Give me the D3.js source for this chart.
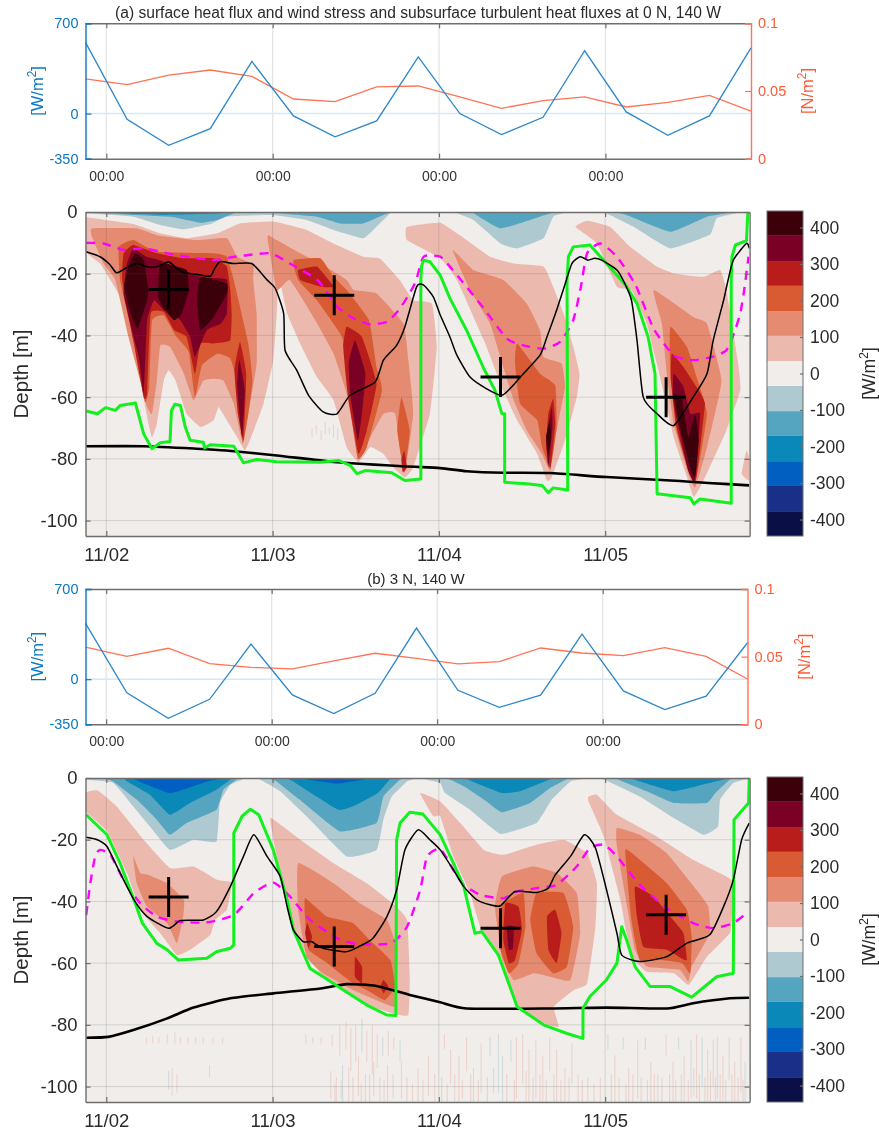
<!DOCTYPE html>
<html>
<head>
<meta charset="utf-8">
<style>
  html, body { margin: 0; padding: 0; background: #fff; }
  text { font-family: "Liberation Sans", Arial, sans-serif; }
</style>
</head>
<body>
<div id="chart"></div>
<script src="https://cdn.jsdelivr.net/npm/d3@7"></script>
<script>
// time is in hours since 11/02 00:00, depth in metres, fluxes in W/m2
const dayHours = [0, 24, 48, 72];
const dayLabels = ['11/02', '11/03', '11/04', '11/05'];
const clockLabels = ['00:00', '00:00', '00:00', '00:00'];
const depthTicks = [0, -20, -40, -60, -80, -100];
const heatTicks = [-350, 0, 700];
const stressTicks = [0, 0.05, 0.1];
const barTicks = [400, 300, 200, 100, 0, -100, -200, -300, -400];

const sixHourly = [-3, 3, 9, 15, 21, 27, 33, 39, 45, 51, 57, 63, 69, 75, 81, 87, 93];
const heatFluxA = [552, -44, -246, -117, 404, -18, -181, -57, 440, 0, -163, -29, 487, 13, -168, -18, 510];
const windStressA = [.059, .0547, .0618, .0655, .0608, .0441, .0421, .053, .0537, .0456, .0372, .0429, .0456, .0382, .0416, .0468, .0352];
const heatFluxB = [433, -106, -303, -156, 272, -122, -267, -109, 397, -86, -218, -124, 350, -91, -236, -132, 283];
const windStressB = [.0571, .0502, .0562, .0448, .0421, .0409, .0468, .0525, .0488, .0446, .0463, .0564, .0527, .0507, .0567, .0502, .0335];

const bandEdges = [-445, -377, -308, -240, -171, -103, -34, 34, 103, 171, 240, 308, 377, 445];
const bandColors = ['#0a1045', '#1a2f88', '#005fc0', '#0a88b8', '#56a5c0', '#aec9d0', '#f0edeb',
  '#ebb9ad', '#e48b72', '#d95b33', '#b81d1c', '#7a0026', '#3b0009'];

// thin black line, green line, thick black line, dashed magenta line, crosses: panel a
const mixedLayerA = [[-2.9,-12.9],[-.9,-14.5],[.5,-17],[1.5,-19.7],[3,-18],[4.4,-16.7],[6,-17.8],[7.3,-17.7],[9,-16.1],[10,-18],[11.2,-19.7],[13,-20.2],[15,-20.8],[15.6,-18.5],[16.4,-16.1],[18.4,-16.7],[21,-16.7],[23.2,-22],[24.4,-24.8],[25.6,-32.9],[25.8,-44.8],[27.5,-51.3],[29.2,-59.4],[31.3,-64.8],[33.3,-65.4],[35.2,-59.4],[38.8,-55.1],[40,-48],[41.9,-43.2],[43.1,-37.2],[44.8,-24.2],[45.8,-23.7],[47.2,-27.5],[48.2,-33.4],[49.6,-40.5],[50.6,-46.4],[52.5,-53.5],[54.9,-57.3],[57.1,-59.4],[58.5,-56.7],[60,-52.9],[62.6,-46.4],[63.6,-40.5],[65,-31.8],[66.1,-24.2],[67.2,-16.7],[68.4,-14.5],[69.5,-15.6],[70.5,-15],[71.5,-15.6],[73.7,-18.8],[74.8,-23],[75.8,-28.6],[76.6,-41.6],[77.5,-60],[79.5,-65.4],[81.9,-69.2],[84.7,-60],[86.7,-52.4],[87.6,-41.6],[89.1,-28.6],[89.6,-23.5],[90.5,-15.6],[92.4,-10.2],[92.8,-11.8]];
const thermoclineA = [[-2.9,-64.5],[-1.3,-65.4],[-.1,-63.4],[1.3,-64.3],[2,-62.7],[4.2,-61.9],[5.4,-71.9],[6.6,-76.7],[7.8,-74.8],[9.2,-74.4],[9.4,-64.3],[9.9,-62.3],[10.7,-62.7],[11.4,-69.7],[12.1,-74],[14,-74.6],[14.2,-76.5],[15,-75.4],[18.4,-75.9],[19.8,-81.3],[21.7,-80.2],[24.6,-80.9],[30.9,-81.1],[33.5,-80.5],[35.2,-82.1],[36.2,-84.8],[37.4,-83.8],[41.2,-84.5],[43.1,-87],[45.4,-86.5],[45.4,-22],[45.5,-17.7],[45.8,-15.6],[46.7,-16.1],[48.2,-20.5],[49.6,-28],[52,-38.3],[54.5,-50.8],[56.1,-57.8],[57.1,-65.4],[57.5,-65.4],[57.5,-87.6],[60.7,-88.1],[62.9,-88.6],[63.8,-91],[64.5,-89.4],[66.6,-90.1],[66.5,-22],[66.7,-14.5],[67.4,-11.3],[69.8,-10.7],[72.2,-16.7],[74.9,-23.5],[76.6,-29.7],[78.2,-40.5],[79.2,-52.4],[79.5,-91.3],[84.3,-92.6],[84.8,-94.6],[85.7,-93],[90.2,-94.4],[90.2,-22],[90.3,-14.5],[90.8,-10.7],[92.4,-9.3],[92.6,0]];
const bottomLineA = [[-2.9,-75.9],[5.4,-75.9],[13,-76.7],[17.3,-77.3],[24.6,-78.9],[32.8,-81],[42.9,-82.4],[48.2,-83],[52,-84],[57.3,-84.5],[64,-84.6],[72.2,-85.9],[82.8,-87.2],[86.9,-87.8],[92.8,-88.6]];
const dashedLineA = [[-2.9,-10],[-.4,-10.2],[2.5,-12.3],[5.4,-11.8],[8.8,-13.4],[11.6,-14.5],[15.5,-15.6],[17.9,-14.7],[20.3,-14],[23.7,-13.4],[26.5,-16.7],[30.6,-22.3],[33.3,-30.7],[35.7,-34.5],[38,-36.4],[40.5,-35.6],[42.2,-31.8],[43.6,-27],[44.7,-22.3],[45.8,-14.5],[48.2,-14.5],[49.6,-17.7],[51.4,-22.6],[54.5,-31.3],[57.8,-41],[60.2,-43.2],[63.1,-44.3],[65.5,-42.1],[67.4,-35],[68.5,-24.2],[69.4,-13.4],[71.3,-10.2],[73.7,-14.5],[76.4,-23.7],[79,-37.8],[81.9,-46.4],[84.7,-48],[87.6,-46.9],[89.5,-44.8],[90.5,-39.9],[91.5,-32.9],[92.1,-24.8],[92.7,-14.5]];
const crossesA = [[9,-25.1],[32.9,-27],[56.9,-53.5],[80.8,-60]];

// same lines for panel b
const mixedLayerB = [[-2.9,-19.2],[-1.3,-20],[.1,-22.2],[2,-30.8],[4,-39.5],[5.9,-44.9],[9,-48.7],[10.7,-46.2],[14,-46],[15.9,-43.3],[17.9,-35.2],[19.8,-25.4],[21.3,-18.4],[23.2,-25.4],[25.1,-31.9],[26.1,-41.7],[27,-49.2],[28.4,-53],[29.6,-53],[31.3,-55.2],[34.6,-56.3],[36.4,-54.7],[38.5,-51.9],[40.5,-44.9],[41.9,-36.3],[43.1,-23.3],[45,-16.8],[46.7,-20],[48.2,-23.3],[50.1,-29.8],[51.6,-35.2],[53.5,-39.5],[55.4,-41.1],[56.9,-41.4],[59,-36.8],[62.1,-37.1],[63.8,-35.7],[64.8,-31.4],[67,-25.4],[69,-18.4],[70.6,-22.7],[72.2,-36.2],[73.7,-50.3],[74.4,-57.4],[77,-59.5],[80.9,-57.9],[83.8,-53.5],[87.1,-50.8],[89.1,-41.6],[90.5,-33],[91.7,-20],[92.8,-14.6]];
const thermoclineB = [[-2.9,-11.9],[.1,-18.4],[2,-27.6],[4,-39.5],[5.2,-47],[7.3,-53.6],[8.8,-55.7],[10.4,-59],[14.5,-58.4],[15.9,-56.3],[17.9,-55.2],[18.4,-54.1],[18.4,-17.9],[19.6,-12.4],[20.8,-10.1],[22,-11.9],[24.1,-23.3],[26.1,-39.5],[27,-49.2],[29.4,-61.7],[31.3,-64.4],[34.6,-69.3],[37.6,-73.6],[40.5,-76.8],[41.8,-77],[41.9,-20],[42.4,-14.6],[43.8,-11.1],[45.7,-11.7],[48.2,-18.4],[50.1,-27.6],[51.6,-35.2],[53.2,-50.3],[54.2,-49.8],[56.6,-57.4],[59.3,-74.1],[63.1,-80],[66.5,-82.8],[68.8,-84.4],[68.8,-74.6],[69.8,-70.8],[72.2,-65.4],[73.7,-60],[74.4,-48.2],[75.1,-52.5],[76.3,-61.1],[78.5,-67.6],[81.4,-67.6],[84.5,-71],[88.1,-64.4],[90.5,-63.3],[90.6,-13.5],[92.7,-8.1],[92.8,0]];
const bottomLineB = [[-2.9,-84.2],[.3,-83.9],[3.9,-81.7],[8.8,-77.9],[12.6,-74.4],[17.9,-71.4],[24.1,-69.8],[30.9,-68.2],[34.7,-66.8],[39,-67.4],[43.8,-70.3],[48.2,-72.7],[52,-74.7],[64,-74.7],[72.2,-74.4],[80.9,-74.7],[84.7,-73],[90,-71.4],[92.8,-71.2]];
const dashedLineB = [[-2.9,-44.4],[-2.3,-34],[-1.6,-25.4],[-.9,-23.3],[.6,-24.9],[2.5,-33],[4.9,-40.6],[7.3,-44.9],[10.2,-46.5],[14.5,-46.8],[18.4,-44.4],[21.3,-37.3],[24.1,-33.9],[26.5,-38.4],[29.4,-46],[33.3,-51.9],[36.2,-53.8],[41,-53.6],[43.4,-48.2],[45.3,-36.3],[46.3,-25.4],[48.2,-23],[50.1,-29.8],[51.6,-34.6],[54,-37.9],[57.3,-39],[59.3,-36.8],[62.1,-35.7],[65,-34.6],[67.9,-28.7],[69.8,-22.7],[71.8,-21.6],[73.7,-25.4],[77,-34.6],[80.9,-42.2],[84.7,-47],[87.6,-48.7],[90.5,-47],[92.7,-43.3]];
const crossesB = [[9,-38.6],[32.9,-54.6],[56.9,-48.7],[80.8,-44.3]];

// flux field of panel a, as [band value, outline], painted from weakest to strongest
const fluxColdA = [
  [-68, [[-3,0],[-2.9,-.4],[3.9,-1.5],[7.8,-4.2],[11.2,-5.6],[15,-3.9],[17.4,-1.5],[23.9,-1],[28.9,-2.6],[32.8,-5.8],[37.1,-8.5],[39,-4.8],[41,-.4],[42,0]]],
  [-68, [[50,0],[50.6,-.4],[53,-2.6],[56.9,-10.2],[59.3,-11.8],[63.1,-8.5],[64.5,-1.5],[66.5,-.2],[67,0]]],
  [-68, [[71.5,0],[72.2,-.4],[76.1,-4.8],[81.4,-11.8],[87.1,-7.4],[88.1,-2],[91.5,-.2],[92,0]]],
  [-137, [[-3,0],[-2.9,-.2],[3.9,-1],[9.7,-1.7],[13.6,-3.5],[16,-2.6],[18.4,-.4],[19,0]]],
  [-137, [[24,0],[24.6,-.4],[30.4,-1.5],[33.8,-3.7],[37.1,-3.7],[40,-1],[41,-.2],[41.5,0]]],
  [-137, [[52,0],[53,-.4],[56.9,-5.3],[62.6,-1.5],[64.5,-.2],[65,0]]],
  [-137, [[74,0],[75.1,-1],[81.4,-6.4],[86.7,-1.5],[89.5,-.4],[90,0]]],
  [-205, [[-1,0],[8,-.9],[15,-.6],[17,0]]]
];
const fluxWarmA = [
  [68, [[-2.9,-1.7],[3.9,-3.9],[7.8,-6.9],[11.6,-8.5],[16,-6.9],[19.3,-3.7],[24.1,-3.1],[28.9,-5.8],[32.8,-10.2],[37.1,-14.5],[39.5,-15.1],[42.4,-22.2],[44.3,-28.6],[47,-29.7],[47.7,-43.7],[46.7,-65.4],[44.3,-82.7],[43.1,-86],[41.4,-82.7],[40,-78.4],[38.1,-76.2],[36.4,-81],[34.7,-76.2],[32.8,-61],[30.4,-53.5],[28.2,-43.7],[26.1,-32.9],[24.9,-21],[24.6,-32.9],[24.1,-48],[22.7,-62.1],[20.9,-73],[20,-77.3],[18.9,-73],[17.4,-67.5],[16.2,-63.2],[15.5,-67.5],[13.6,-69.7],[11.6,-65.4],[10,-54.6],[9,-51.3],[8.3,-54.6],[7.3,-68.6],[6.6,-73],[6.1,-68.6],[4.9,-54.6],[3.5,-39.4],[2,-27.5],[.6,-22],[-.9,-16.7],[-3.2,-12.3],[-3.2,-1.7]]],
  [68, [[43.4,-4.8],[48.2,-3.5],[52,-9.1],[55.4,-14.5],[58.8,-16.7],[63.1,-17.7],[64.5,-24.2],[66,-32.9],[67.4,-43.7],[68.3,-52.4],[67.9,-60],[66.2,-74],[64.3,-86],[63.6,-87],[62.2,-78.4],[59.3,-67.5],[57.3,-57.8],[54.5,-41.6],[50.6,-22],[48.2,-15],[43.4,-9.1]]],
  [68, [[67.7,-4.8],[69.4,-2.8],[72.7,-4.8],[75.6,-11.3],[79.5,-17.7],[81.9,-19.9],[86.2,-21],[88.6,-18.8],[89.5,-25.3],[91.2,-49.1],[91.5,-57.8],[89.5,-70.8],[86.2,-87],[84.8,-92.4],[83.8,-85.9],[81.9,-73],[79.7,-51.3],[78,-36.2],[75.8,-25.3],[73.7,-24.2],[70.8,-10.2]]],
  [68, [[91.7,-84.8],[92.4,-77.3],[92.8,-80],[92.8,-87]]],
  [137, [[-2,-5.3],[4.4,-5.3],[7.3,-7.5],[13.1,-9.1],[17.4,-8.5],[18.9,-14.5],[21.2,-17],[21.2,-22],[21.7,-32.9],[21.7,-49.1],[20.5,-65.4],[19.6,-74],[18.4,-62.1],[16.9,-54.6],[15.5,-54],[14,-54.6],[12.6,-61],[11.2,-52.4],[9.2,-43.7],[7.8,-43.2],[7.3,-54.6],[6.6,-65.4],[5.9,-63.2],[4.9,-54.6],[3.2,-40.5],[1.3,-22],[-.4,-16.7],[-2.1,-7.8]]],
  [137, [[23.4,-7.5],[24.6,-9.1],[28,-13.4],[30.9,-16.7],[34.7,-22],[35.7,-25.3],[39,-26.4],[42.9,-36.2],[43.6,-48],[44.3,-65.4],[43,-84.9],[41.7,-65.4],[40,-65.4],[38.1,-73],[36.4,-79.5],[34.7,-58.9],[32.8,-45.9],[29.9,-34],[26.5,-22],[24.6,-25.3],[23.3,-9.1]]],
  [137, [[50,-12.3],[53,-18.8],[57.3,-22],[60.7,-29.7],[62.6,-38.3],[63.1,-47],[65.7,-49.1],[66.2,-56.7],[65,-70.8],[64.1,-83.8],[62.9,-78.4],[60.7,-70.8],[58.8,-61],[57.3,-50.2],[55.4,-36.2],[52.5,-25.3]]],
  [137, [[79,-25.3],[84.7,-34],[86.7,-36.2],[88.8,-54.6],[86.7,-76.2],[85,-89.2],[84,-84.9],[81.9,-68.6],[80.9,-52.4],[80.2,-36.2]]],
  [205, [[1.8,-11.3],[3.9,-9.1],[7.3,-12.9],[15.5,-13.4],[17.4,-14.5],[18.4,-22],[20.5,-42.6],[21.1,-54.6],[20.5,-65.4],[19.7,-75.1],[18.8,-54.6],[17.9,-47.5],[16,-45.9],[13.8,-49.7],[12.8,-60],[11.9,-45.4],[10,-40],[8.3,-33.5],[6.6,-35.1],[6.2,-56.7],[5.6,-61.6],[4.1,-43.7],[2,-22]]],
  [205, [[27,-15.6],[30.9,-15],[32.8,-21],[34.7,-25.3],[37.9,-35],[39,-50.2],[39.8,-57.8],[37.6,-76.2],[36.3,-80],[35.2,-63.2],[34.2,-41.6],[32.8,-36.2],[30.4,-28.6],[27.7,-22]]],
  [205, [[42.6,-60],[43.8,-70.8],[43,-84.3],[42,-70.8]]],
  [205, [[59.3,-42.6],[62.6,-52.4],[64.8,-56.2],[65,-69.7],[64.1,-82.7],[62.9,-76.2],[62.2,-67.5],[59.7,-62.1],[59,-49.1]]],
  [205, [[81.4,-37.2],[83.8,-43.7],[85.2,-53.5],[86.7,-65.4],[85.2,-85.9],[84.3,-85.4],[82.3,-70.8],[81.4,-52.4]]],
  [274, [[2.5,-13.4],[3.9,-10.7],[7.3,-13.4],[11.1,-15],[15.5,-15],[17.4,-17.7],[17.9,-25.3],[18.1,-32.9],[17.9,-41.6],[15.5,-42.6],[13.6,-42.6],[12.8,-52.4],[11.6,-40.5],[9.8,-38.3],[8.3,-32.4],[6.4,-32.9],[5.9,-58.9],[5.4,-60],[3.9,-41.6],[2.3,-22]]],
  [274, [[19.3,-42.1],[20.2,-52.4],[19.8,-74],[19,-65.4],[18.5,-51.3]]],
  [274, [[27.7,-18.8],[30.4,-17.7],[32.8,-24.2],[31,-24.2],[28,-22]]],
  [274, [[34.7,-37.2],[36.9,-40.5],[39,-55.6],[37.6,-70.8],[36.4,-78.4],[34.9,-60],[34.2,-43.7]]],
  [274, [[43,-77.3],[43.4,-82.7],[42.8,-84.3],[42.6,-80.5]]],
  [274, [[64.5,-60.5],[64.8,-68.6],[64.1,-83.2],[63.5,-76.2],[63.8,-65.4]]],
  [274, [[81.6,-45.9],[83.3,-50.2],[85.2,-56.7],[86.4,-62.1],[85.5,-80.5],[85,-88.1],[84,-83.8],[82.3,-69.7],[81.5,-54.6]]],
  [342, [[3,-16.7],[3.9,-11.8],[5.8,-14.5],[7.7,-15.6],[13.6,-21],[17.4,-22],[17.4,-32.9],[16.5,-36.2],[14.5,-38.3],[12.8,-47],[12.1,-40.5],[10.7,-35.1],[9.3,-32.9],[8.3,-31.8],[6.9,-28.6],[5.9,-35.1],[5.4,-58.9],[4.7,-47],[3.7,-38.3],[2.5,-26.4]]],
  [342, [[19.2,-48],[20,-57.8],[19.6,-73],[18.9,-56.7]]],
  [342, [[35.9,-41.6],[37.4,-52.4],[36.9,-65.4],[36.3,-74],[35.2,-58.9],[35,-49.1]]],
  [342, [[64.3,-63.2],[64.4,-69.7],[63.8,-82.7],[63.5,-73]]],
  [342, [[81.9,-52.4],[83.3,-56.7],[84.3,-65.4],[85.7,-65.4],[85.2,-82.7],[84.8,-87.6],[84,-83.8],[82.6,-69.7],[81.8,-60]]],
  [411, [[3.2,-17.7],[4.2,-13.4],[5.4,-15.6],[6.1,-25.3],[5.9,-28.6],[4.5,-37.8],[3.5,-32.9],[2.6,-24.2]]],
  [411, [[7.8,-16.7],[11.6,-18.8],[11.9,-25.3],[10.9,-32.9],[9.8,-35.1],[8.3,-31.3],[7.5,-27.5]]],
  [411, [[13.6,-21],[17.4,-23.2],[17.4,-26.4],[15.5,-34],[13.6,-38.3],[13.1,-28.6]]],
  [411, [[64,-67.5],[64.2,-73],[63.8,-78.4],[63.5,-73]]],
  [411, [[81.9,-58.9],[83.1,-61.1],[84,-73],[85,-65.4],[85.5,-74],[85,-86],[84.4,-83.8],[82.8,-69.7]]]
];

// flux field of panel b
const fluxColdB = [
  [-68, [[-3,0],[-2.9,-.6],[1,-1.6],[3.9,-9.2],[6.3,-15.7],[9.2,-23.3],[12.6,-20],[15.9,-20.6],[16.4,-8.1],[17.9,-2.2],[19.8,-.3],[20,0]]],
  [-68, [[22,0],[22.2,-.5],[25.1,-4.3],[28.9,-12.4],[34.7,-25.4],[39,-23.3],[40,-13.5],[41.2,-6],[43.4,-1.1],[44,0]]],
  [-68, [[45.8,0],[48.2,-1.6],[48.9,-4.9],[52.5,-10.3],[56.9,-18.1],[62.1,-14.6],[64.3,-7],[67,-1.1],[68.9,-.3],[69,0]]],
  [-68, [[72,0],[72.2,-.8],[77,-6],[81.9,-13],[86.2,-18.4],[88.3,-15.7],[88.6,-7],[90.5,-1.6],[92.4,-.3],[92.5,0]]],
  [-137, [[0,0],[1,-1.1],[4.4,-7],[7.3,-13.5],[9.2,-18.4],[11.6,-14.6],[15.9,-10.3],[16.9,-3.8],[18.8,-.5],[19,0]]],
  [-137, [[24,0],[24.6,-1.1],[27.9,-7],[33.7,-17.3],[39,-14.6],[40,-6],[42.4,-.5],[43,0]]],
  [-137, [[49,0],[49.6,-.5],[51.6,-2.7],[54.5,-7],[57.1,-11.1],[61.2,-8.1],[64.1,-3.2],[66.5,-.3],[67,0]]],
  [-137, [[74,0],[74.2,-.8],[78,-4.3],[81.9,-8.1],[86.7,-8.1],[87.9,-4.9],[90,-.5],[90.5,0]]],
  [-205, [[3,0],[3.4,-1.6],[6.3,-5.4],[9.2,-11.9],[12.1,-8.1],[15.9,-3.8],[17.9,-.5],[18,0]]],
  [-205, [[26.5,0],[27,-1.1],[33.5,-10.3],[36.1,-8.7],[39.2,-4.9],[40.9,-.5],[41,0]]],
  [-205, [[52,0],[52.5,-.8],[57.1,-4.9],[59.7,-4.3],[63.6,-.8],[64,0]]],
  [-205, [[76,0],[76.6,-.8],[81.9,-4.3],[86.7,-1.8],[89.1,-.5],[89.5,0]]],
  [-274, [[3.5,0],[3.9,-.3],[9.2,-4.9],[14.5,-1.1],[16.4,-.3],[16.5,0]]],
  [-274, [[28,0],[28.5,-.3],[33.3,-1.8],[37.6,-.3],[38,0]]]
];
const fluxWarmB = [
  [68, [[-3.2,-10.3],[.1,-17.3],[3,-30.8],[4.9,-42.7],[7.8,-50.3],[10.2,-57.4],[12.1,-55.7],[15,-50.9],[15.7,-46],[17.4,-42.7],[18.1,-34],[16,-33],[12.6,-28.7],[9.2,-29.2],[5.4,-20],[1.5,-9.2],[-1.3,-4],[-3.2,-4.9]]],
  [68, [[23.8,-13],[28,-20],[32.8,-27.6],[37.6,-34.1],[41.3,-40.6],[43.4,-46],[43.8,-64.4],[43.6,-76.8],[41.4,-76.3],[37.6,-73.6],[34.7,-69.3],[30.9,-63.3],[28.5,-55.7],[27,-49.2],[25.6,-37.3],[23.8,-15.7]]],
  [68, [[45.3,-4.9],[48.2,-7.6],[51.1,-14.6],[54.5,-23.3],[57.3,-24.9],[62.1,-21.6],[66,-20],[69.4,-24.4],[70.8,-34],[70.6,-48.2],[69.4,-66.6],[67.5,-68.7],[64.6,-74.1],[65.3,-80.6],[63.1,-79.5],[59.3,-74.1],[56.9,-57.9],[54,-48.2],[52.5,-37.3],[50.1,-25.4],[48.2,-12.4],[47.2,-12.4]]],
  [68, [[69.6,-6],[70.8,-5.4],[73.7,-11.9],[79.5,-19],[84.7,-26.5],[89.5,-31.9],[90.5,-34],[90.3,-44.9],[90,-50.3],[86.7,-57.9],[85.2,-63.3],[84,-67.1],[81.9,-63.3],[78,-62.8],[75.9,-57.9],[74.9,-48.2],[74.2,-39.5],[71.8,-18.9],[69.6,-7.6]]],
  [137, [[3.9,-25.4],[4.9,-30.8],[6.1,-31.4],[8.8,-34.1],[11.2,-39.5],[11.1,-44.9],[10.2,-53.6],[8.8,-47.1],[5.9,-41.7],[4.4,-34.1]]],
  [137, [[27.7,-27.6],[32.8,-34.1],[36.6,-40.6],[40.5,-46],[41.7,-53.6],[41.9,-67.6],[41.7,-74.2],[39,-72],[35.6,-68.7],[31.3,-63.3],[28.9,-57.9],[27.7,-42.7]]],
  [137, [[57.1,-31.9],[61.6,-28.7],[65,-30.8],[67.9,-37.3],[68.4,-50.3],[67,-65.5],[64.1,-64.4],[61.7,-63.3],[58.8,-65.5],[57.1,-57.9],[56.1,-41.7]]],
  [137, [[73.7,-16.2],[77,-18.4],[80.9,-24.4],[85.2,-36.3],[86.9,-41.7],[87.1,-50.3],[84.5,-61.1],[84,-66],[82.8,-62.2],[78,-61.1],[76.3,-55.7],[75.1,-40.6],[73.7,-22.2]]],
  [205, [[28.7,-39],[31.8,-44.9],[35.6,-47],[38,-52.5],[41,-59],[41.7,-67.6],[40.2,-72],[37.6,-68.7],[35.6,-66.5],[31.9,-60],[29.2,-55.7],[28.7,-46]]],
  [205, [[57.3,-40.6],[60.2,-37.3],[60.5,-48.2],[59.5,-60],[58.1,-63.3],[56.9,-55.7],[56.6,-46]]],
  [205, [[62.1,-37.3],[66,-37.3],[67.4,-48.2],[66.5,-61.1],[64.5,-63.3],[62.1,-56.8],[61.2,-46]]],
  [205, [[74.9,-23.3],[77,-26.5],[80.9,-34.1],[83.8,-42.7],[84.5,-51.4],[84.3,-63.3],[83.1,-60],[80,-59],[77,-59],[75.8,-46]]],
  [274, [[29,-47],[29.7,-51.4],[29.2,-55.2],[28.7,-50.3]]],
  [274, [[35.9,-57.9],[36.9,-61.1],[36.9,-66.5],[35.9,-64.4]]],
  [274, [[40,-65.5],[40.7,-67.5],[40,-69.8],[39.6,-67.5]]],
  [274, [[57.6,-40.6],[59.5,-41.7],[60,-49.2],[59,-59],[58.1,-60],[57.3,-52.5]]],
  [274, [[63.6,-44.9],[64.8,-42.7],[65.7,-50.3],[65,-60],[63.8,-55.7]]],
  [274, [[76.3,-35.2],[79,-38.4],[81.4,-44.9],[83.3,-50.3],[83.8,-59],[82.6,-57.9],[80.9,-55.7],[77.5,-54.7],[76.6,-44.9]]],
  [342, [[57.8,-48.2],[58.8,-48.2],[58.7,-55.2],[58.1,-55.7]]]
];

// faint vertical streaks in the deep layer: [hour, top, bottom, value]
const streaksA = [[29.7,-70,-73,68],[30.3,-69,-72,68],[31,-71,-74,68],[31.6,-68,-72,68],[32.2,-70,-72,68],[32.8,-69,-73,68],[33.4,-70,-74,68]];
const streaksB = [
  [5.8,-84,-86,68],[6.7,-83.5,-86,68],[7.6,-84,-86,68],[8.8,-83,-86,68],[9.9,-82.5,-86,68],[10.7,-84,-86,68],[11.8,-84,-86,68],[12.9,-84,-86,68],[14,-84,-86,68],[15.4,-84,-86,68],[16.8,-84,-86,68],
  [9,-95,-101,-68],[9.5,-94,-103,68],[10.2,-96,-102,68],[14.9,-93,-97,68],
  [28.8,-83,-86,68],[29.8,-84,-86,-68],[31,-84,-86,68],[32.6,-83,-87,68],[33.7,-80,-90,68],[34.6,-79,-88,68],[35.3,-81,-95,68],[36,-80,-92,68],[36.9,-78,-89,-68],[37.6,-82,-92,68],[38.4,-80,-96,68],[39.1,-83,-94,68],[39.9,-84,-90,-68],[40.7,-82,-90,68],[41.5,-84,-88,68],[42.4,-85,-92,-68],
  [32.4,-95,-104,68],[33.2,-97,-105,68],[34.1,-93,-105,-68],[35,-94,-105,68],[36.4,-90,-103,68],[37.4,-96,-105,68],[38.6,-92,-103,68],[39.5,-97,-105,68],[40.6,-93,-105,68],[41.4,-96,-104,68],[42.6,-92,-104,68],[43.4,-97,-105,68],[45,-94,-105,68],[46.5,-90,-103,68],[47.4,-96,-105,68],
  [48.8,-83,-88,68],[49.7,-88,-99,68],[50.9,-90,-105,68],[52,-84,-95,68],[53,-94,-105,68],[54.1,-86,-102,68],[55.4,-84,-90,-68],[56.6,-83,-102,-68],[57.2,-90,-105,-68],[58.4,-85,-92,-68],[59.2,-84,-104,68],[60.1,-83,-99,68],[61,-88,-105,68],[62,-85,-104,68],[63,-90,-105,68],[64,-84,-95,68],[65,-88,-105,68],[66.2,-94,-105,68],[67.2,-86,-99,68],[68.1,-96,-105,68],
  [72.4,-83,-88,-68],[73.4,-90,-105,68],[74.6,-84,-88,-68],[75.4,-94,-105,68],[76.7,-85,-104,68],[77.8,-84,-88,-68],[78.6,-92,-105,68],[79.6,-96,-105,68],[80.8,-83,-90,68],[81.8,-92,-105,68],[82.6,-84,-88,-68],[83.4,-90,-105,68],[84.4,-85,-104,-68],[85.2,-83,-104,68],[86,-84,-100,-68],[86.8,-88,-105,68],[87.6,-85,-100,68],[88.2,-84,-104,-68],[89,-90,-105,68],[89.9,-84,-98,68],[90.7,-92,-105,68],[91.6,-84,-102,68],[92.2,-92,-105,-68],
  [33,-99,-105,68],[33.9,-98,-104,68],[35.6,-97,-105,68],[36.8,-99,-105,68],[38,-96,-105,68],[40.1,-98,-105,68],[44.2,-99,-105,68],[45.7,-98,-105,68],[48.4,-97,-105,68],[49.2,-99,-105,68],[50.3,-96,-105,68],[51.4,-98,-104,68],[52.6,-96,-105,68],[53.7,-98,-105,68],[55,-97,-105,68],[55.9,-94,-102,-68],[57.8,-96,-105,68],[58.9,-98,-105,68],[60.6,-95,-105,68],[61.6,-97,-105,68],[62.6,-96,-105,68],[63.5,-98,-105,68],[64.6,-96,-105,68],[65.6,-98,-105,68],[66.8,-97,-105,68],[68.7,-98,-105,68],[69.5,-97,-105,68],[70.4,-99,-105,68],[71.3,-97,-105,68],[72.9,-96,-105,68],[74,-97,-105,68],[75,-99,-105,68],[76,-96,-105,68],[77.2,-97,-105,68],[78.1,-98,-105,68],[79.1,-96,-105,68],[80.2,-97,-105,68],[81.3,-96,-105,68],[82.2,-98,-105,68],[83,-96,-105,68],[84,-98,-105,68],[84.8,-94,-103,68],[85.6,-96,-105,68],[86.4,-97,-105,68],[87.2,-95,-105,68],[87.9,-97,-105,68],[88.6,-96,-105,68],[89.4,-98,-105,68],[90.3,-96,-105,68],[91.2,-97,-105,68],[91.9,-98,-105,68]
];

const width = 879;
const height = 1131;
const axisGrey = '#6e6e6e';
const heatBlue = '#0a78c4';
const stressRed = '#ff5a36';
const textDark = '#2a2a2a';

const svg = d3.select('#chart').append('svg')
  .attr('width', width)
  .attr('height', height)
  .style('display', 'block')
  .style('filter', 'blur(0.35px)');

const bandColor = d3.scaleThreshold()
  .domain(bandEdges.slice(1, -1))
  .range(bandColors);

drawForcing({
  top: 23.3, bottom: 158.7, right: 751,
  flux: heatFluxA, stress: windStressA
});
drawForcing({
  top: 589, bottom: 724.3, right: 747.5,
  flux: heatFluxB, stress: windStressB
});
drawSection({
  top: 212, bottom: 536, fluxes: [fluxColdA, fluxWarmA], streaks: streaksA,
  mixed: mixedLayerA, thermo: thermoclineA, floor: bottomLineA, dashed: dashedLineA, crosses: crossesA
});
drawSection({
  top: 778, bottom: 1102, fluxes: [fluxColdB, fluxWarmB], streaks: streaksB,
  mixed: mixedLayerB, thermo: thermoclineB, floor: bottomLineB, dashed: dashedLineB, crosses: crossesB
});
drawColorbar(211, 536);
drawColorbar(777, 1102);

svg.append('text')
  .attr('x', 418).attr('y', 18)
  .attr('text-anchor', 'middle')
  .attr('font-size', 15.6)
  .attr('fill', textDark)
  .text('(a) surface heat flux and wind stress and subsurface turbulent heat fluxes at 0 N, 140 W');
svg.append('text')
  .attr('x', 416).attr('y', 584)
  .attr('text-anchor', 'middle')
  .attr('font-size', 15)
  .attr('fill', textDark)
  .text('(b) 3 N, 140 W');

function unitLabel(x, y, size, color, unit) {
  const label = svg.append('text')
    .attr('transform', `translate(${x},${y}) rotate(-90)`)
    .attr('text-anchor', 'middle')
    .attr('font-size', size)
    .attr('fill', color);
  label.append('tspan').text(`[${unit}/m`);
  label.append('tspan').attr('dy', -size * 0.4).attr('font-size', size * 0.72).text('2');
  label.append('tspan').attr('dy', size * 0.4).text(']');
}

function drawForcing(cfg) {
  const left = 85.5;
  const x = d3.scaleLinear().domain([-3, 93]).range([left, cfg.right]);
  const yFlux = d3.scaleLinear().domain([-350, 700]).range([cfg.bottom, cfg.top]);
  const yStress = d3.scaleLinear().domain([0, 0.1]).range([cfg.bottom, cfg.top]);
  const g = svg.append('g');

  // daily grid and the zero line
  g.append('g').selectAll('line').data(dayHours).join('line')
    .attr('x1', d => x(d)).attr('x2', d => x(d))
    .attr('y1', cfg.top).attr('y2', cfg.bottom)
    .attr('stroke', '#e3e3e3').attr('stroke-width', 1.2);
  g.append('line')
    .attr('x1', left).attr('x2', cfg.right)
    .attr('y1', yFlux(0)).attr('y2', yFlux(0))
    .attr('stroke', '#d4e9f6').attr('stroke-width', 1.4);

  // box top and bottom, time ticks inside
  g.append('g').attr('transform', `translate(0,${cfg.bottom})`)
    .call(d3.axisBottom(x).tickValues(dayHours).tickSize(-5).tickPadding(12).tickSizeOuter(0).tickFormat((d, i) => clockLabels[i]))
    .call(styleAxis, axisGrey, 14, '#333');
  g.append('g').attr('transform', `translate(0,${cfg.top})`)
    .call(d3.axisTop(x).tickValues(dayHours).tickSize(-5).tickSizeOuter(0).tickFormat(''))
    .call(styleAxis, axisGrey, 14, '#333');

  const timeLine = d3.line().x((d, i) => x(sixHourly[i]));
  g.append('path')
    .attr('fill', 'none').attr('stroke', '#ff7355').attr('stroke-width', 1.3)
    .attr('d', timeLine.y(d => yStress(d))(cfg.stress));
  g.append('path')
    .attr('fill', 'none').attr('stroke', '#2c87c9').attr('stroke-width', 1.3)
    .attr('d', timeLine.y(d => yFlux(d))(cfg.flux));

  g.append('g').attr('transform', `translate(${left},0)`)
    .call(d3.axisLeft(yFlux).tickValues(heatTicks).tickSize(-6).tickPadding(7).tickFormat(d => d))
    .call(styleAxis, heatBlue, 14.5, heatBlue);
  g.append('g').attr('transform', `translate(${cfg.right},0)`)
    .call(d3.axisRight(yStress).tickValues(stressTicks).tickSize(-6).tickPadding(7).tickFormat(d => d))
    .call(styleAxis, '#ff7355', 14.5, stressRed);

  const mid = (cfg.top + cfg.bottom) / 2;
  unitLabel(43, mid, 16.5, heatBlue, 'W');
  unitLabel(cfg.right + 62, mid, 16.5, stressRed, 'N');
}

function drawSection(cfg) {
  const left = 85.5;
  const right = 749.6;
  const x = d3.scaleLinear().domain([-3, 92.85]).range([left, right]);
  const y = d3.scaleLinear().domain([0, -105]).range([cfg.top, cfg.bottom]);
  const clipId = `clip-${cfg.top}`;

  svg.append('clipPath').attr('id', clipId)
    .append('rect')
    .attr('x', left).attr('y', cfg.top)
    .attr('width', right - left).attr('height', cfg.bottom - cfg.top);

  const g = svg.append('g');
  const plot = g.append('g').attr('clip-path', `url(#${clipId})`);
  plot.append('rect')
    .attr('x', left).attr('y', cfg.top)
    .attr('width', right - left).attr('height', cfg.bottom - cfg.top)
    .attr('fill', bandColor(0));

  const straight = d3.line().x(d => x(d[0])).y(d => y(d[1]));
  const smooth = d3.line().x(d => x(d[0])).y(d => y(d[1])).curve(d3.curveCardinal.tension(0.4));
  const region = d3.line().x(d => x(d[0])).y(d => y(d[1])).curve(d3.curveCardinalClosed.tension(0.65));

  cfg.fluxes.forEach(group => {
    const painted = group.slice().sort((a, b) => Math.abs(a[0]) - Math.abs(b[0]));
    plot.append('g').selectAll('path').data(painted).join('path')
      .attr('fill', d => bandColor(d[0]))
      .attr('d', d => region(d[1]));
  });

  plot.append('g').selectAll('line').data(cfg.streaks).join('line')
    .attr('x1', d => x(d[0])).attr('x2', d => x(d[0]))
    .attr('y1', d => y(d[1])).attr('y2', d => y(d[2]))
    .attr('stroke', d => d[3] > 0 ? '#e4a090' : '#8fb8c8')
    .attr('stroke-width', 0.9)
    .attr('stroke-opacity', 0.4);

  // grid goes over the field
  plot.append('g').selectAll('line').data(dayHours).join('line')
    .attr('x1', d => x(d)).attr('x2', d => x(d))
    .attr('y1', cfg.top).attr('y2', cfg.bottom)
    .attr('stroke', '#555').attr('stroke-opacity', 0.18);
  plot.append('g').selectAll('line').data(depthTicks).join('line')
    .attr('x1', left).attr('x2', right)
    .attr('y1', d => y(d)).attr('y2', d => y(d))
    .attr('stroke', '#555').attr('stroke-opacity', 0.18);

  plot.append('path').attr('fill', 'none')
    .attr('stroke', '#000').attr('stroke-width', 2.6)
    .attr('d', smooth(cfg.floor));
  plot.append('path').attr('fill', 'none')
    .attr('stroke', '#ff00ff').attr('stroke-width', 2.4).attr('stroke-dasharray', '9 7')
    .attr('d', smooth(cfg.dashed));
  plot.append('path').attr('fill', 'none')
    .attr('stroke', '#12f01e').attr('stroke-width', 3).attr('stroke-linejoin', 'round')
    .attr('d', straight(cfg.thermo));
  plot.append('path').attr('fill', 'none')
    .attr('stroke', '#000').attr('stroke-width', 1.5).attr('stroke-linejoin', 'round')
    .attr('d', smooth(cfg.mixed));

  const arm = 20;
  const marks = plot.append('g').selectAll('g').data(cfg.crosses).join('g')
    .attr('transform', d => `translate(${x(d[0])},${y(d[1])})`)
    .attr('stroke', '#000').attr('stroke-width', 3);
  marks.append('line').attr('x1', -arm).attr('x2', arm);
  marks.append('line').attr('y1', -arm).attr('y2', arm);

  g.append('g').attr('transform', `translate(0,${cfg.bottom})`)
    .call(d3.axisBottom(x).tickValues(dayHours).tickSize(-5).tickPadding(12).tickSizeOuter(0).tickFormat((d, i) => dayLabels[i]))
    .call(styleAxis, axisGrey, 18.5, textDark);
  g.append('g').attr('transform', `translate(0,${cfg.top})`)
    .call(d3.axisTop(x).tickValues(dayHours).tickSize(-5).tickSizeOuter(0).tickFormat(''))
    .call(styleAxis, axisGrey, 18.5, textDark);
  g.append('g').attr('transform', `translate(${left},0)`)
    .call(d3.axisLeft(y).tickValues(depthTicks).tickSize(-5).tickPadding(8).tickSizeOuter(0).tickFormat(d => d))
    .call(styleAxis, axisGrey, 18.5, textDark);
  g.append('g').attr('transform', `translate(${right},0)`)
    .call(d3.axisRight(y).tickValues(depthTicks).tickSize(-5).tickSizeOuter(0).tickFormat(''))
    .call(styleAxis, axisGrey, 18.5, textDark);

  svg.append('text')
    .attr('transform', `translate(28,${(cfg.top + cfg.bottom) / 2}) rotate(-90)`)
    .attr('text-anchor', 'middle')
    .attr('font-size', 20.5)
    .attr('fill', textDark)
    .text('Depth [m]');
}

function drawColorbar(top, bottom) {
  const left = 767;
  const right = 803;
  const y = d3.scaleLinear().domain([bandEdges[0], bandEdges[bandEdges.length - 1]]).range([bottom, top]);
  const g = svg.append('g');

  g.append('g').selectAll('rect').data(bandColors).join('rect')
    .attr('x', left).attr('width', right - left)
    .attr('y', (d, i) => y(bandEdges[i + 1]))
    .attr('height', (d, i) => y(bandEdges[i]) - y(bandEdges[i + 1]))
    .attr('fill', d => d);
  g.append('rect')
    .attr('x', left).attr('y', top)
    .attr('width', right - left).attr('height', bottom - top)
    .attr('fill', 'none').attr('stroke', axisGrey);

  g.append('g').attr('transform', `translate(${right},0)`)
    .call(d3.axisRight(y).tickValues(barTicks).tickSize(-3).tickPadding(7).tickSizeOuter(0).tickFormat(d => d))
    .call(styleAxis, axisGrey, 17.5, textDark);
  g.select('.domain').remove();

  unitLabel(875, (top + bottom) / 2, 17.5, textDark, 'W');
}

function styleAxis(sel, color, size, textColor) {
  sel.select('.domain').attr('stroke', color).attr('stroke-width', 1.4);
  sel.selectAll('.tick line').attr('stroke', color).attr('stroke-width', 1.2);
  sel.selectAll('.tick text')
    .attr('font-size', size)
    .attr('fill', textColor)
    .style('font-family', '"Liberation Sans", Arial, sans-serif');
}
</script>
</body>
</html>
